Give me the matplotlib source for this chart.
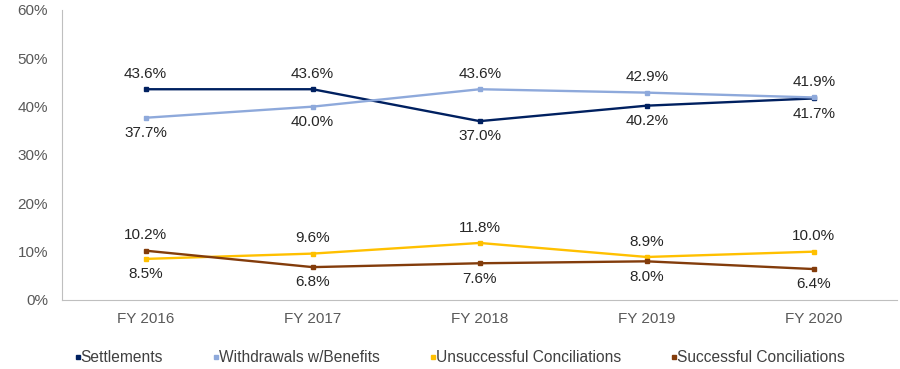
import numpy as np
from matplotlib import pyplot as plt
from matplotlib.ticker import FuncFormatter
from matplotlib.lines import Line2D

plt.rcParams['font.family'] = ['Liberation Sans', 'DejaVu Sans']

years = ['FY 2016', 'FY 2017', 'FY 2018', 'FY 2019', 'FY 2020']
settlements = [43.6, 43.6, 37.0, 40.2, 41.7]
withdrawals = [37.7, 40.0, 43.6, 42.9, 41.9]
unsuccessful = [8.5, 9.6, 11.8, 8.9, 10.0]
successful = [10.2, 6.8, 7.6, 8.0, 6.4]

# +1 label above the point, -1 below
settle_pos = [1, 1, -1, -1, -1]
withdraw_pos = [-1, -1, 1, 1, 1]
unsucc_pos = [-1, 1, 1, 1, 1]
succ_pos = [1, -1, -1, -1, -1]

series = [
    ('Settlements', settlements, settle_pos, '#002060'),
    ('Withdrawals w/Benefits', withdrawals, withdraw_pos, '#8EA9DB'),
    ('Unsuccessful Conciliations', unsuccessful, unsucc_pos, '#FFC000'),
    ('Successful Conciliations', successful, succ_pos, '#833C0B'),
]

fig = plt.figure(figsize=(9, 3.69), dpi=100)
ax = fig.add_axes([0.069, 0.187, 0.928, 0.786])
x = np.arange(len(years))

handles = []
for name, vals, pos, col in series:
    ax.plot(x, vals, color=col, lw=1.7, marker='s', ms=3.5, zorder=3)
    for xi, v, p in zip(x, vals, pos):
        ax.annotate(f'{v:.1f}%', (xi, v), xytext=(0, 11 * p), textcoords='offset points',
                    ha='center', va='center', fontsize=11, color='#262626')
    handles.append(Line2D([], [], color=col, marker='s', ms=3, lw=0, label=name))

ax.set_xlim(-0.5, len(years) - 0.5)
ax.set_ylim(0, 60)
ax.set_yticks(range(0, 61, 10))
ax.yaxis.set_major_formatter(FuncFormatter(lambda v, _: f'{v:.0f}%'))
ax.set_xticks(x)
ax.set_xticklabels(years)
ax.tick_params(axis='both', length=0, labelsize=11, labelcolor='#595959')
ax.tick_params(axis='x', pad=9)
ax.tick_params(axis='y', pad=10)
for s in ['top', 'right']:
    ax.spines[s].set_visible(False)
for s in ['left', 'bottom']:
    ax.spines[s].set_color('#BFBFBF')

fig.legend(handles=handles, loc='lower center', bbox_to_anchor=(0.511, -0.028), ncol=4,
           frameon=False, fontsize=11.2, handletextpad=0.05, handlelength=0.3,
           columnspacing=3.25, labelcolor='#404040')

fig.savefig('out.png', dpi=100)
